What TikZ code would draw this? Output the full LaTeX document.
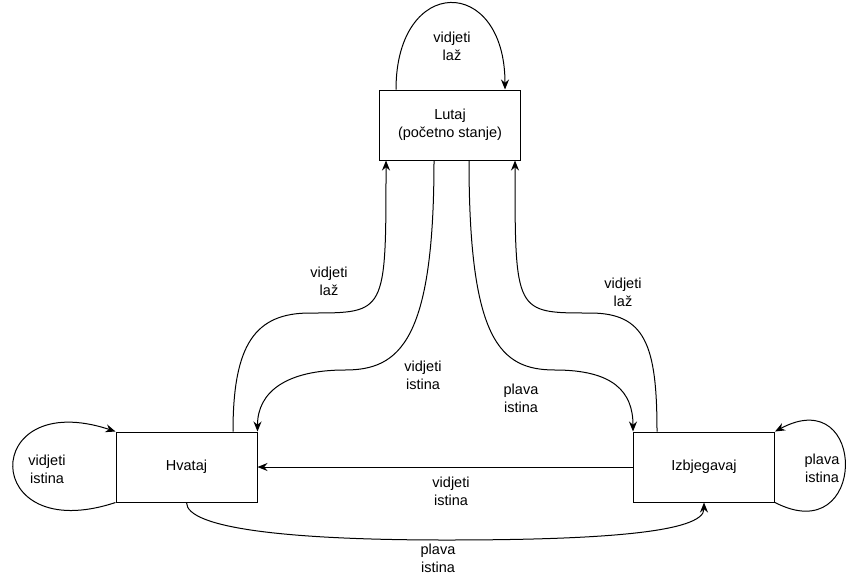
\documentclass[tikz,border=0pt]{standalone}
\usepackage{fontspec}
\setmainfont{Liberation Sans}
\usetikzlibrary{arrows.meta,calc}

\begin{document}
\begin{tikzpicture}[x=1pt,y=-1pt,
  state/.style={draw, line width=1pt, minimum width=141pt, minimum height=70pt, align=center, font=\fontsize{14.5}{18}\selectfont},
  lbl/.style={align=center, inner sep=0pt, font=\fontsize{14.5}{18}\selectfont},
  edge/.style={draw, line width=1pt, -{Stealth[length=10pt,width=8pt]}}]
\useasboundingbox (0,0) rectangle (846,579);

\node[state] (lutaj) at (450,125) {Lutaj\\(početno stanje)};
\node[state] (hvataj) at (186.5,467) {Hvataj};
\node[state] (izbjeg) at (704,467) {Izbjegavaj};
\coordinate (m1) at (310,313);
\coordinate (m2) at (345,370);
\coordinate (m3) at (555,370);
\coordinate (m4) at (590,313);
\coordinate (bot) at (446,540);

% petlje
\draw[edge] ([xshift=-54pt]lutaj.north) .. controls +(0,-115) and +(0,-115) .. ([xshift=55pt]lutaj.north);
\draw[edge] (hvataj.south west) .. controls +(-136,45) and +(-136,-45) .. (hvataj.north west);
\draw[edge] (izbjeg.south east) .. controls +(93,48) and +(93,-50) .. (izbjeg.north east);

% prijelazi
\draw[edge] ([xshift=46.5pt]hvataj.north) .. controls +(0,-87) and +(-55,0) .. (m1) .. controls +(76,0) and +(0,153) .. ([xshift=-64pt]lutaj.south);
\draw[edge] ([xshift=-16pt]lutaj.south) .. controls +(0,180) and +(55,0) .. (m2) .. controls +(-58,0) and +(0,-40) .. (hvataj.north east);
\draw[edge] ([xshift=19pt]lutaj.south) .. controls +(0,180) and +(-55,0) .. (m3) .. controls +(58,0) and +(0,-40) .. (izbjeg.north west);
\draw[edge] ([xshift=-47pt]izbjeg.north) .. controls +(0,-87) and +(55,0) .. (m4) .. controls +(-75,0) and +(0,153) .. ([xshift=65pt]lutaj.south);
\draw[edge] (izbjeg.west) -- (hvataj.east);
\draw[edge] (hvataj.south) .. controls +(0,26) and +(-156,0) .. (bot) .. controls +(154,0) and +(0,30) .. (izbjeg.south);

\node[lbl] (l1) at (452,46) {vidjeti\\laž};
\node[lbl] (l2) at (47,469) {vidjeti\\istina};
\node[lbl] (l3) at (822,468) {plava\\istina};
\node[lbl] (l4) at (329,281) {vidjeti\\laž};
\node[lbl] (l5) at (623,292) {vidjeti\\laž};
\node[lbl] (l6) at (423,375) {vidjeti\\istina};
\node[lbl] (l7) at (521,398) {plava\\istina};
\node[lbl] (l8) at (451,491) {vidjeti\\istina};
\node[lbl] (l9) at (438,558) {plava\\istina};

\end{tikzpicture}
\end{document}
